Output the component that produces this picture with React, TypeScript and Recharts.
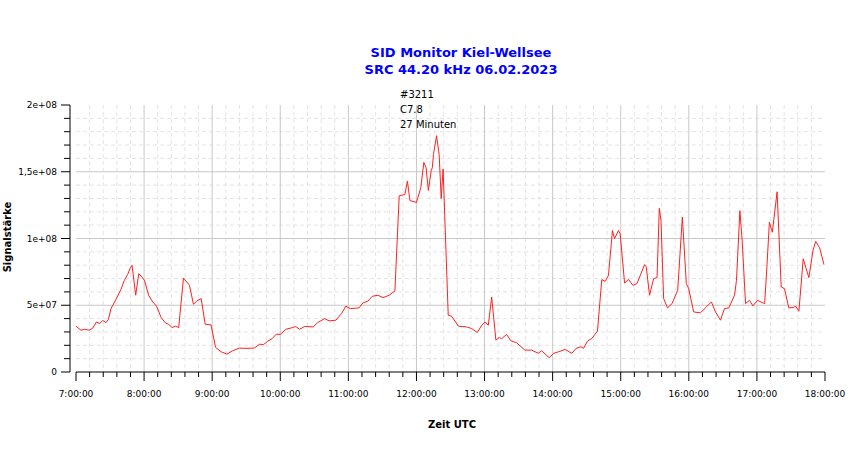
import { CartesianGrid, Line, LineChart, XAxis, YAxis } from "recharts";

// minutes after 07:00 UTC
const minutes = [
  0, 4.4, 7.5, 11.7, 14.7, 18, 21, 23.5, 26.5, 28.5, 31, 35, 39.7, 42.6, 45.5,
  47.6, 49.4, 52.6, 55.3, 58.2, 60.3, 64, 67.6, 71, 75, 78.8, 81.7, 84.7, 87.6,
  90.5, 94.7, 100, 103.5, 106.4, 110.3, 113.8, 119, 123, 128, 133, 138, 144,
  150, 157, 162, 165, 169, 173, 176.5, 180, 185, 191, 193.5, 197, 201.5, 209,
  213, 219, 223, 229, 234, 237.7, 241.8, 249.4, 252.8, 257.4, 261, 266, 270.6,
  276, 281, 284.8, 289.8, 292, 294.3, 300, 303.8, 306.5, 308.5, 310.5, 313,
  314, 315, 317.7, 320, 321.8, 323.5, 328, 331, 337, 344, 348.5, 353.6, 357.5,
  360.4, 363.3, 366.3, 370, 373, 375, 379.4, 383.2, 388.2, 395.6, 401.5, 407.3,
  410.3, 417, 421, 425, 431, 436.9, 440.7, 444.8, 447.2, 450.7, 454.5, 459.5,
  463.3, 466.3, 469.2, 472.7, 474.5, 478, 479.5, 483.4, 486.9, 490.7, 494.3,
  501, 502.5, 505.4, 509, 512, 514, 515.5, 517.8, 521.3, 525.2, 530.2, 534.3,
  537.8, 539.9, 544.3, 550.2, 555.5, 559.9, 563.5, 567.9, 571.4, 575.2, 580.3,
  582, 585, 587, 590, 593.5, 596.5, 600.4, 606.8, 608.3, 611, 613.6, 617.8,
  621.4, 624.3, 628.1, 632.6, 634, 637, 640.8, 645.8, 649.4, 651.8, 655.3,
  659.1,
];

// signal in units of 1e7
const signalE7 = [
  3.43, 3.13, 3.2, 3.13, 3.28, 3.75, 3.63, 3.86, 3.7, 3.93, 4.78, 5.4, 6.2,
  6.87, 7.3, 7.74, 7.99, 5.75, 7.37, 7.1, 6.87, 5.75, 5.25, 4.93, 4.08, 3.68,
  3.56, 3.33, 3.43, 3.33, 7.04, 6.49, 5.07, 5.32, 5.5, 3.58, 3.53, 1.84, 1.51,
  1.34, 1.59, 1.79, 1.77, 1.79, 2.09, 2.04, 2.31, 2.51, 2.84, 2.81, 3.2, 3.33,
  3.41, 3.2, 3.41, 3.38, 3.7, 4.0, 3.83, 3.88, 4.38, 4.93, 4.75, 4.8, 5.17,
  5.32, 5.67, 5.75, 5.57, 5.75, 6.07, 13.2, 13.3, 14.3, 12.84, 12.7, 13.8,
  15.7, 15.3, 13.6, 15.1, 15.3, 16.3, 17.7, 16.3, 13.0, 15.2, 4.25, 4.18, 3.43,
  3.38, 3.26, 2.96, 3.5, 3.75, 3.5, 5.62, 2.39, 2.59, 2.49, 2.81, 2.34, 2.19,
  1.64, 1.64, 1.4, 1.59, 1.07, 1.4, 1.51, 1.69, 1.4, 1.77, 1.89, 1.77, 2.31,
  2.51, 3.06, 6.92, 6.79, 7.24, 10.6, 9.98, 10.6, 10.35, 6.66, 6.94, 6.49, 6.62,
  8.04, 7.86, 5.75, 6.99, 7.07, 12.26, 11.34, 5.5, 4.8, 5.12, 6.12, 11.6, 6.62,
  6.24, 4.5, 4.43, 4.87, 5.25, 4.5, 3.88, 4.75, 4.8, 5.75, 6.87, 12.09, 9.85,
  5.12, 5.37, 4.95, 5.37, 5.12, 7.11, 11.22, 10.47, 13.5, 6.37, 6.24, 4.8,
  4.83, 4.95, 4.55, 8.48, 7.07, 9.1, 9.78, 9.31, 8.04,
];

const hourLabels = [
  "7:00:00", "8:00:00", "9:00:00", "10:00:00", "11:00:00", "12:00:00",
  "13:00:00", "14:00:00", "15:00:00", "16:00:00", "17:00:00", "18:00:00",
];
const yMajorValues = [0, 5e7, 1e8, 1.5e8, 2e8];
const yMajorLabels = ["0", "5e+07", "1e+08", "1,5e+08", "2e+08"];
const annotation = ["#3211", "C7.8", "27 Minuten"];

const data = minutes.map((m, i) => ({ t: m, v: signalE7[i] * 1e7 }));

const xTicks = Array.from({ length: 56 }, (_, i) => i * 12);
// grid: no lines on the plot border
const xMajorGrid = xTicks.filter((t) => t % 60 === 0 && t > 0 && t < 660);
const xMinorGrid = xTicks.filter((t) => t % 60 !== 0);
const yTicks = Array.from({ length: 21 }, (_, i) => i * 1e7);
const yMajorGrid = [5e7, 1e8, 1.5e8];
const yMinorGrid = yTicks.filter((v) => v % 5e7 !== 0);

const FONT = "'DejaVu Sans', Verdana, sans-serif";
const AXIS_X = 70;
const PLOT_TOP = 105;
const PLOT_BOTTOM = 372;

function XTick(props: any) {
  const { x, payload } = props;
  const t = payload.value as number;
  const major = t % 60 === 0;
  return (
    <g>
      <line x1={x} x2={x} y1={PLOT_BOTTOM} y2={PLOT_BOTTOM + (major ? 9 : 5)} stroke="#000" />
      {major && (
        <text x={x} y={397} textAnchor="middle" fontSize={9} fontFamily={FONT} fill="#000">
          {hourLabels[t / 60]}
        </text>
      )}
    </g>
  );
}

function YTick(props: any) {
  const { y, payload } = props;
  const v = payload.value as number;
  const idx = yMajorValues.indexOf(v);
  const major = idx >= 0;
  return (
    <g>
      {v === 0 && (
        <line x1={AXIS_X} x2={AXIS_X} y1={PLOT_TOP} y2={PLOT_BOTTOM} stroke="#000" />
      )}
      <line x1={AXIS_X - (major ? 9 : 6)} x2={AXIS_X} y1={y} y2={y} stroke="#000" />
      {major && (
        <text x={57} y={y} dy="0.35em" textAnchor="end" fontSize={9} fontFamily={FONT} fill="#000">
          {yMajorLabels[idx]}
        </text>
      )}
    </g>
  );
}

export default function App() {
  return (
    <div style={{ position: "absolute", left: 0, top: 0, width: 850, height: 459, background: "#fff" }}>
      <LineChart
        width={850}
        height={459}
        data={data}
        margin={{ top: PLOT_TOP, right: 25, bottom: 47, left: 16 }}
      >
        <CartesianGrid
          stroke="#e4e4e4"
          strokeDasharray="4 3"
          verticalValues={xMinorGrid}
          horizontalValues={yMinorGrid}
        />
        <CartesianGrid
          stroke="#c8c8c8"
          verticalValues={xMajorGrid}
          horizontalValues={yMajorGrid}
        />
        <XAxis
          dataKey="t"
          type="number"
          domain={[0, 660]}
          ticks={xTicks}
          interval={0}
          height={40}
          tickLine={false}
          axisLine={{ stroke: "#000" }}
          tick={<XTick />}
        />
        <YAxis
          type="number"
          domain={[0, 2e8]}
          ticks={yTicks}
          interval={0}
          width={60}
          tickLine={false}
          axisLine={false}
          tick={<YTick />}
        />
        <Line
          type="linear"
          dataKey="v"
          stroke="#ff2020"
          strokeWidth={1}
          dot={false}
          isAnimationActive={false}
        />
      </LineChart>
      <svg
        width={850}
        height={459}
        style={{ position: "absolute", left: 0, top: 0, pointerEvents: "none" }}
      >
        <text x={461} y={57} textAnchor="middle" fontSize={13} fontWeight="bold" fontFamily={FONT} fill="#0000ff">
          SID Monitor Kiel-Wellsee
        </text>
        <text x={461} y={74} textAnchor="middle" fontSize={13} fontWeight="bold" fontFamily={FONT} fill="#0000ff">
          SRC 44.20 kHz 06.02.2023
        </text>
        {annotation.map((s, i) => (
          <text key={s} x={400} y={98 + i * 15} fontSize={10} fontFamily={FONT} fill="#000">
            {s}
          </text>
        ))}
        <text x={452} y={428} textAnchor="middle" fontSize={10} fontWeight="bold" fontFamily={FONT} fill="#000">
          Zeit UTC
        </text>
        <text
          transform="translate(11,237) rotate(-90)"
          textAnchor="middle"
          fontSize={10}
          fontWeight="bold"
          fontFamily={FONT}
          fill="#000"
        >
          Signalstärke
        </text>
      </svg>
    </div>
  );
}
